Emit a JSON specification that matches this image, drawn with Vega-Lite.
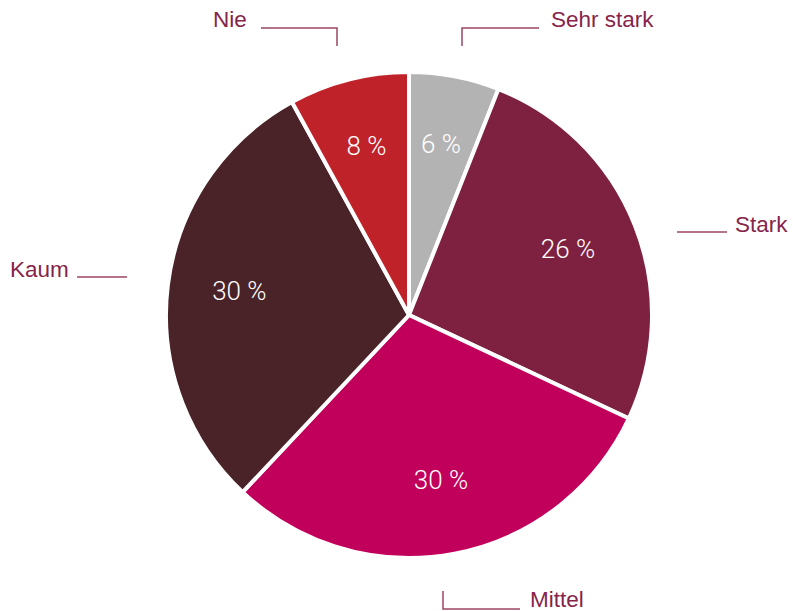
{
  "$schema": "https://vega.github.io/schema/vega-lite/v6.json",
  "autosize": "none",
  "width": 768,
  "height": 592,
  "padding": {"left": 25, "top": 19, "right": 0, "bottom": 0},
  "background": "white",
  "config": {"view": {"stroke": null}},
  "datasets": {
    "slices": [
      {"idx": 1, "category": "Sehr stark", "value": 6, "label": "6 %"},
      {"idx": 2, "category": "Stark", "value": 26, "label": "26 %"},
      {"idx": 3, "category": "Mittel", "value": 30, "label": "30 %"},
      {"idx": 4, "category": "Kaum", "value": 30, "label": "30 %"},
      {"idx": 5, "category": "Nie", "value": 8, "label": "8 %"}
    ],
    "leaders": [
      {"group": "Nie", "pt": 1, "x": -148, "y": -287},
      {"group": "Nie", "pt": 2, "x": -72, "y": -287},
      {"group": "Nie", "pt": 3, "x": -72, "y": -269},
      {"group": "Sehr stark", "pt": 1, "x": 53, "y": -269},
      {"group": "Sehr stark", "pt": 2, "x": 53, "y": -287},
      {"group": "Sehr stark", "pt": 3, "x": 130, "y": -287},
      {"group": "Stark", "pt": 1, "x": 268, "y": -83},
      {"group": "Stark", "pt": 2, "x": 318, "y": -83},
      {"group": "Kaum", "pt": 1, "x": -332, "y": -38},
      {"group": "Kaum", "pt": 2, "x": -282, "y": -38},
      {"group": "Mittel", "pt": 1, "x": 34, "y": 276},
      {"group": "Mittel", "pt": 2, "x": 34, "y": 294},
      {"group": "Mittel", "pt": 3, "x": 111, "y": 294}
    ],
    "names": [
      {"name": "Nie", "x": -196, "y": -288},
      {"name": "Sehr stark", "x": 142, "y": -288},
      {"name": "Stark", "x": 326, "y": -83},
      {"name": "Kaum", "x": -399, "y": -38},
      {"name": "Mittel", "x": 121, "y": 292}
    ]
  },
  "layer": [
    {
      "data": {"name": "slices"},
      "mark": {"type": "arc", "outerRadius": 243, "stroke": "white", "strokeWidth": 4},
      "encoding": {
        "theta": {"field": "value", "type": "quantitative", "stack": true},
        "order": {"field": "idx", "type": "quantitative"},
        "color": {
          "field": "category",
          "type": "nominal",
          "legend": null,
          "scale": {
            "domain": ["Sehr stark", "Stark", "Mittel", "Kaum", "Nie"],
            "range": ["#b3b3b3", "#7e2140", "#c0005a", "#4a2328", "#c0222a"]
          }
        }
      }
    },
    {
      "data": {"name": "slices"},
      "mark": {"type": "text", "radius": 171, "dy": -2, "fill": "white", "font": "Roboto", "fontSize": 26, "fontWeight": 300, "align": "center", "baseline": "middle"},
      "encoding": {
        "theta": {"field": "value", "type": "quantitative", "stack": true},
        "order": {"field": "idx", "type": "quantitative"},
        "text": {"field": "label", "type": "nominal"}
      }
    },
    {
      "data": {"name": "leaders"},
      "mark": {"type": "line", "stroke": "#9b4563", "strokeWidth": 1.5, "interpolate": "linear"},
      "encoding": {
        "x": {"field": "x", "type": "quantitative", "scale": {"domain": [-384, 384]}, "axis": null},
        "y": {"field": "y", "type": "quantitative", "scale": {"domain": [-296, 296], "reverse": true}, "axis": null},
        "detail": {"field": "group", "type": "nominal"},
        "order": {"field": "pt", "type": "quantitative"}
      }
    },
    {
      "data": {"name": "names"},
      "mark": {"type": "text", "fill": "#86244a", "font": "Liberation Sans", "fontSize": 22.5, "align": "left", "baseline": "alphabetic"},
      "encoding": {
        "x": {"field": "x", "type": "quantitative", "scale": {"domain": [-384, 384]}, "axis": null},
        "y": {"field": "y", "type": "quantitative", "scale": {"domain": [-296, 296], "reverse": true}, "axis": null},
        "text": {"field": "name", "type": "nominal"}
      }
    }
  ]
}
